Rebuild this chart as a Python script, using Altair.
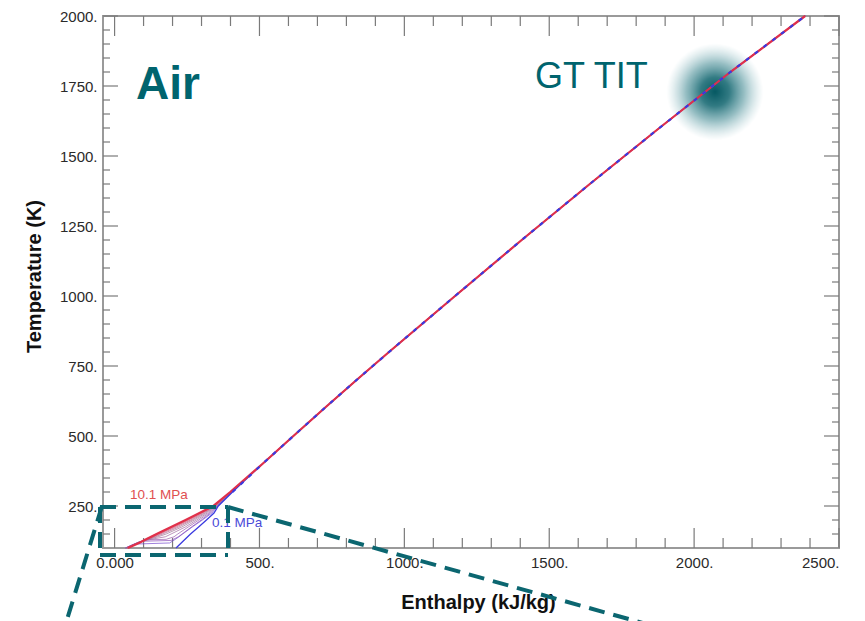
import altair as alt
import pandas as pd

TEAL = "#00646e"
FONT = "Liberation Sans"

# ---- data: temperature (K) vs enthalpy (kJ/kg) isobars for air ----
pressures = [0.1, 1.1, 2.1, 3.1, 4.1, 5.1, 6.1, 7.1, 8.1, 9.1, 10.1]

T_super = [100, 110, 120, 130, 140, 150, 175, 200, 225, 250, 300]
low_T = {
    0.1: [100, 125, 150, 175, 200, 225, 250, 300],
    1.1: [100, 110, 114, 118, 130, 140, 150, 175, 200, 225, 250, 300],
    2.1: [100, 110, 120, 124, 127, 140, 150, 175, 200, 225, 250, 300],
    3.1: [100, 110, 120, 129, 131, 140, 150, 175, 200, 225, 250, 300],
    4.1: T_super, 5.1: T_super, 6.1: T_super, 7.1: T_super,
    8.1: T_super, 9.1: T_super, 10.1: T_super,
}
low_h = {
    0.1: [212, 237, 262, 290, 317, 343, 358, 407],
    1.1: [37, 58, 68, 190, 208, 222, 235, 268, 303, 336, 356, 406],
    2.1: [38, 59, 80, 95, 195, 220, 233, 265, 299, 331, 355, 405],
    3.1: [39, 60, 81, 104, 178, 205, 218, 254, 291, 326, 354, 404],
    4.1: [40, 61, 82, 120, 175, 195, 244, 283, 320, 352, 403],
    5.1: [41, 62, 83, 113, 150, 178, 232, 275, 314, 350, 402],
    6.1: [42, 63, 84, 110, 140, 166, 222, 268, 309, 348, 402],
    7.1: [43, 64, 85, 108, 135, 158, 213, 262, 304, 346, 401],
    8.1: [44, 65, 86, 107, 131, 152, 206, 256, 300, 344, 400],
    9.1: [45, 66, 87, 107, 128, 148, 200, 250, 296, 342, 400],
    10.1: [46, 67, 88, 107, 126, 145, 195, 245, 293, 340, 399],
}
main_T = [400, 500, 600, 700, 800, 1000, 1200, 1400, 1600, 1800, 2000]
main_h = [510, 617, 725, 835, 947, 1175, 1405, 1640, 1880, 2125, 2383]

tit_h = [2072]
tit_T = [1729]

x_major = [0, 500, 1000, 1500, 2000, 2500]
x_minor = [v for v in range(100, 2500, 100) if v % 500 != 0]
y_major = [250, 500, 750, 1000, 1250, 1500, 1750, 2000]
y_minor = [v for v in range(150, 2000, 50) if v % 250 != 0]

rows = []
for p in pressures:
    Ts = low_T[p] + main_T
    hs = low_h[p] + main_h
    for i, (t, h) in enumerate(zip(Ts, hs)):
        rows.append({"P": p, "T": t, "h": h, "idx": i})
df = pd.DataFrame(rows)

W, H = 736, 532

xscale = alt.Scale(domain=[-40, 2500], nice=False, zero=False)
yscale = alt.Scale(domain=[100, 2000], nice=False, zero=False)

xaxis = alt.Axis(
    values=x_major, title="Enthalpy (kJ/kg)",
    labelExpr="datum.value == 0 ? '0.000' : format(datum.value, 'd') + '.'",
    domain=False, ticks=False, grid=False, labelPadding=7, titlePadding=22,
    titleX=375,
)
yaxis = alt.Axis(
    values=y_major, title="Temperature (K)",
    labelExpr="format(datum.value, 'd') + '.'",
    domain=False, ticks=False, grid=False, labelPadding=6, titlePadding=15,
    titleY=260,
)


def X(field="h"):
    return alt.X(f"{field}:Q", scale=xscale, axis=xaxis)


def Y(field="T"):
    return alt.Y(f"{field}:Q", scale=yscale, axis=yaxis)


color_scale = alt.Scale(domain=[0.1, 5.1, 10.1], range=["#4040e0", "#9a6f90", "#e04040"])

base = alt.Chart(df)
mid = base.transform_filter("datum.P > 0.2 && datum.P < 10").mark_line(
    strokeWidth=0.9, opacity=0.75
).encode(x=X(), y=Y(), detail="P:N", order="idx:Q",
         color=alt.Color("P:Q", scale=color_scale, legend=None))
blue = base.transform_filter("datum.P < 0.2").mark_line(
    strokeWidth=1.3, color="#3a3ae0"
).encode(x=X(), y=Y(), order="idx:Q")
red = base.transform_filter("datum.P > 10").mark_line(
    strokeWidth=2.2, color="#e0304a"
).encode(x=X(), y=Y(), order="idx:Q")
blue_dash = base.transform_filter("datum.P < 0.2 && datum.T >= 300").mark_line(
    strokeWidth=2.2, color="#3a3ae0", strokeDash=[4, 7]
).encode(x=X(), y=Y(), order="idx:Q")


# ticks drawn inward on all four sides
def tick_layer(values, field, length, side):
    d = pd.DataFrame({field: values})
    m = alt.Chart(d).mark_rule(color="#7a7a7a", strokeWidth=1.2)
    if side == "bottom":
        return m.encode(x=X(field), y=alt.value(H), y2=alt.value(H - length))
    if side == "top":
        return m.encode(x=X(field), y=alt.value(0), y2=alt.value(length))
    if side == "left":
        return m.encode(y=Y(field), x=alt.value(0), x2=alt.value(length))
    return m.encode(y=Y(field), x=alt.value(W), x2=alt.value(W - length))


ticks = [
    tick_layer(x_major, "h", 20, "bottom"), tick_layer(x_minor, "h", 10, "bottom"),
    tick_layer(x_major, "h", 20, "top"), tick_layer(x_minor, "h", 10, "top"),
    tick_layer(y_major, "T", 15, "left"), tick_layer(y_minor, "T", 7, "left"),
    tick_layer(y_major, "T", 15, "right"), tick_layer(y_minor, "T", 7, "right"),
]

one = alt.Data(values=[{}])

blob = alt.Chart(pd.DataFrame({"h": tit_h, "T": tit_T})).mark_circle(
    size=9400, opacity=1,
    fill=alt.Gradient(
        gradient="radial", x1=0.5, y1=0.5, r1=0, x2=0.5, y2=0.5, r2=0.5,
        stops=[alt.GradientStop(offset=0, color="rgba(5,88,98,1)"),
               alt.GradientStop(offset=0.3, color="rgba(15,100,110,0.85)"),
               alt.GradientStop(offset=0.6, color="rgba(45,125,135,0.5)"),
               alt.GradientStop(offset=0.85, color="rgba(90,155,165,0.18)"),
               alt.GradientStop(offset=1, color="rgba(120,175,185,0)")]),
).encode(x=X(), y=Y())


def text(s, x, y, size, color, weight="normal"):
    return alt.Chart(one).mark_text(
        text=s, align="left", baseline="alphabetic", font=FONT,
        fontSize=size, fontWeight=weight, color=color,
    ).encode(x=alt.value(x), y=alt.value(y))


texts = [
    text("Air", 33, 83, 46, TEAL, "bold"),
    text("GT TIT", 432, 72, 36, TEAL),
    text("10.1 MPa", 27, 483, 13.5, "#e05050"),
    text("0.1 MPa", 109, 511, 13.5, "#4a4ad8"),
]


def seg(x1, y1, x2, y2):
    return alt.Chart(one).mark_rule(
        color="#0b6670", strokeWidth=4, strokeDash=[16, 9], strokeCap="butt"
    ).encode(x=alt.value(x1), y=alt.value(y1), x2=alt.value(x2), y2=alt.value(y2))


segs = [
    seg(-3, 491, 125, 491), seg(125, 491, 125, 539),
    seg(-3, 539, 125, 539), seg(-3, 491, -3, 539),
    seg(125, 491, 765, 670), seg(-1, 490, -38, 610),
]

chart = alt.layer(
    *ticks, blob, mid, blue, red, blue_dash, *texts, *segs
).properties(
    width=W, height=H,
    padding={"left": 103, "top": 16, "right": 26, "bottom": 73},
    autosize="none",
).configure_view(
    stroke="#9a9a9a", strokeWidth=2
).configure_axis(
    labelFont=FONT, labelFontSize=15, labelColor="#2a2a2a",
    titleFont=FONT, titleFontSize=20, titleFontWeight="bold", titleColor="#111111",
)

chart.save("out.html", embed_options={"renderer": "svg", "actions": False})
